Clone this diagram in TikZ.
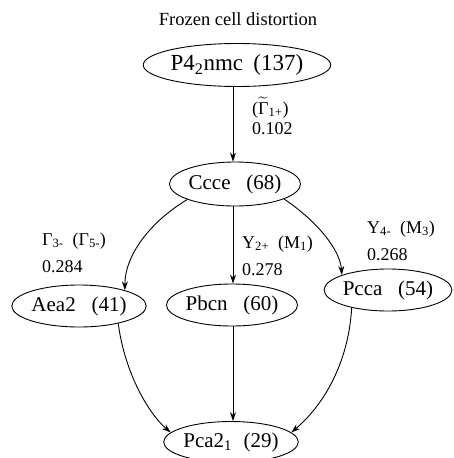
\documentclass[tikz,border=0pt]{standalone}
\usepackage{fontspec}
\usepackage{amsmath}
\setmainfont{Liberation Serif}
\usetikzlibrary{shapes.geometric,arrows.meta}
\begin{document}
\begin{tikzpicture}[x=1pt,y=-1pt,
  grp/.style={draw,ellipse,line width=0.9pt,inner sep=0pt,minimum height=42pt,font=\fontsize{21}{24}\selectfont},
  lbl/.style={anchor=base west,inner sep=0pt,font=\fontsize{18}{21}\selectfont},
  conn/.style={line width=0.9pt,-{Stealth[length=9pt,width=6pt]}}]
\useasboundingbox (0,0) rectangle (453,458);
\node[anchor=base,inner sep=0pt,font=\fontsize{18.5}{21}\selectfont] (title) at (238,25) {Frozen cell distortion};
\node[grp,minimum width=160pt,minimum height=43pt,font=\fontsize{23}{26}\selectfont] (p42) at (237,65) {P4\textsubscript{2}nmc\hspace{0.45em}(137)};
\node[grp,minimum width=124pt,minimum height=44pt] (ccce) at (235,184) {Ccce\hspace{0.75em}(68)};
\node[grp,minimum width=128pt] (aea) at (79,306) {Aea2\hspace{0.75em}(41)};
\node[grp,minimum width=130pt] (pbcn) at (232,305) {Pbcn\hspace{0.75em}(60)};
\node[grp,minimum width=124pt] (pcca) at (388,290) {Pcca\hspace{0.75em}(54)};
\node[grp,minimum width=128pt,minimum height=41pt] (pca) at (231,442) {Pca2\textsubscript{1}\hspace{0.55em}(29)};
\node[lbl] (l1) at (252,114) {($\widetilde{\text{Γ}}$\textsubscript{1+})};
\node[lbl] (l1b) at (252,134) {0.102};
\node[lbl] (l2) at (42,245) {Γ\textsubscript{3-}\hspace{0.5em}(Γ\textsubscript{5-})};
\node[lbl] (l2b) at (42,272) {0.284};
\node[lbl] (l3) at (242,248) {Y\textsubscript{2+}\hspace{0.5em}(M\textsubscript{1})};
\node[lbl] (l3b) at (242,275) {0.278};
\node[lbl] (l4) at (367,233) {Y\textsubscript{4-}\hspace{0.5em}(M\textsubscript{3})};
\node[lbl] (l4b) at (367,260) {0.268};
\draw[conn] (p42.south -| 233,0) -- (ccce.north -| 233,0);
\draw[conn] (ccce.-162) .. controls (150,222) and (125,255) .. (aea.19);
\draw[conn] (ccce.south -| 233,0) -- (pbcn.north -| 233,0);
\draw[conn] (ccce.-17) .. controls (318,222) and (340,250) .. (pcca.162);
\draw[conn] (aea.-24) .. controls (125,375) and (150,415) .. (pca.171);
\draw[conn] (pbcn.south -| 233,0) -- (pca.north -| 233,0);
\draw[conn] (pcca.-154) .. controls (348,370) and (318,410) .. (pca.9);
\end{tikzpicture}
\end{document}
